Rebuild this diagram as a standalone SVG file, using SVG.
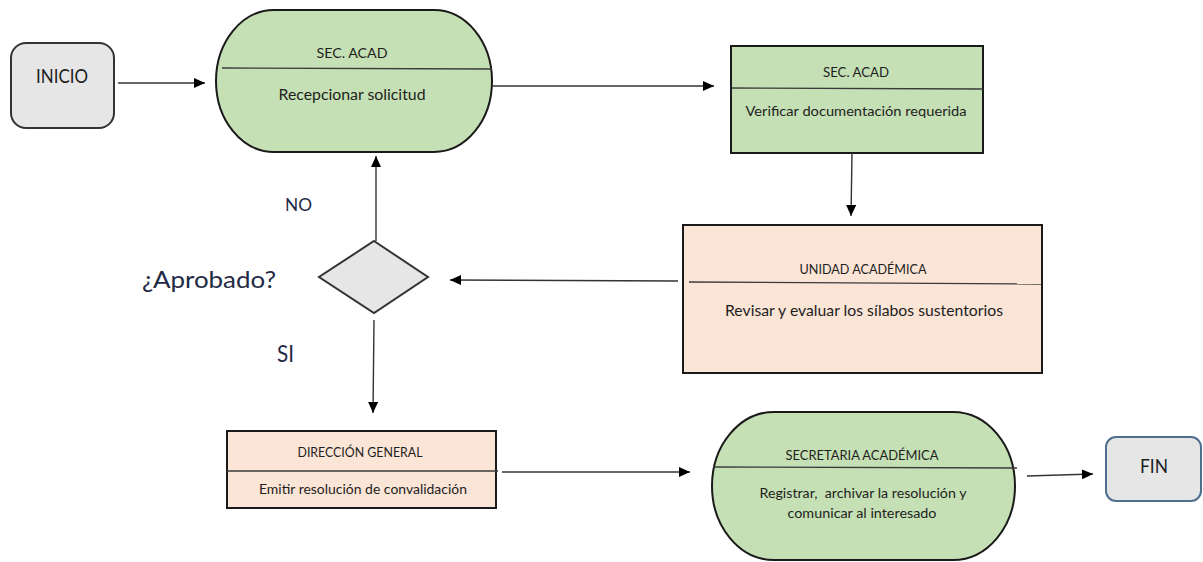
<svg xmlns="http://www.w3.org/2000/svg" width="1203" height="562" viewBox="0 0 1203 562">
  <style>
    .t { font-family: Lato, "Open Sans", "Liberation Sans", sans-serif; fill: #1e1e1e; text-anchor: middle; }
    .lbl { font-family: Lato, "Open Sans", "Liberation Sans", sans-serif; fill: #1f2a44; }
    .green { fill: #c5e0b4; stroke: #1a1a1a; stroke-width: 2; }
    .peach { fill: #fbe5d6; stroke: #1a1a1a; stroke-width: 2; }
    .gray { fill: #e6e6e6; stroke: #333333; stroke-width: 2; }
    .sep { stroke: #3a3a3a; stroke-width: 1.3; fill: none; }
    .conn { stroke: #333333; stroke-width: 1.4; fill: none; marker-end: url(#arrow); }
  </style>
  <defs>
    <marker id="arrow" markerUnits="userSpaceOnUse" markerWidth="11" markerHeight="10" refX="11" refY="5" orient="auto">
      <path d="M0,0 L11,5 L0,10 z" fill="#000"/>
    </marker>
  </defs>

  <rect width="1203" height="562" fill="#ffffff"/>

  <!-- start terminal -->
  <g id="inicio">
    <rect class="gray" x="11" y="43" width="103" height="85" rx="15" ry="15"/>
    <text class="t" x="62" y="83" font-size="20" textLength="52" lengthAdjust="spacingAndGlyphs">INICIO</text>
  </g>

  <!-- reception of the request -->
  <g id="recepcionar">
    <rect class="green" x="216" y="10" width="276" height="142" rx="58" ry="71"/>
    <line class="sep" x1="222" y1="68" x2="492" y2="69"/>
    <text class="t" x="352" y="58" font-size="14" textLength="71" lengthAdjust="spacingAndGlyphs">SEC. ACAD</text>
    <text class="t" x="352" y="100" font-size="15.5" textLength="147" lengthAdjust="spacingAndGlyphs">Recepcionar solicitud</text>
  </g>

  <!-- document check -->
  <g id="verificar">
    <rect class="green" x="731" y="46" width="252" height="107"/>
    <line class="sep" x1="731" y1="88" x2="983" y2="89"/>
    <text class="t" x="856" y="77" font-size="12.5" textLength="66" lengthAdjust="spacingAndGlyphs">SEC. ACAD</text>
    <text class="t" x="856" y="116" font-size="13.5" textLength="221" lengthAdjust="spacingAndGlyphs">Verificar documentación requerida</text>
  </g>

  <!-- academic unit review -->
  <g id="unidad">
    <rect class="peach" x="683" y="225" width="359" height="148"/>
    <line class="sep" x1="689" y1="282" x2="1042" y2="284"/>
    <text class="t" x="863" y="274" font-size="13.5" textLength="127" lengthAdjust="spacingAndGlyphs">UNIDAD ACADÉMICA</text>
    <text class="t" x="864" y="316" font-size="16" textLength="278" lengthAdjust="spacingAndGlyphs">Revisar y evaluar los sílabos sustentorios</text>
  </g>

  <!-- approval decision -->
  <g id="decision">
    <polygon class="gray" points="374,241 428,277 374,313 319,277"/>
    <text class="lbl" x="142" y="288" font-size="24" textLength="134" lengthAdjust="spacingAndGlyphs">¿Aprobado?</text>
  </g>

  <!-- general direction -->
  <g id="direccion">
    <rect class="peach" x="227" y="431" width="269" height="77"/>
    <line class="sep" x1="227" y1="471" x2="498" y2="471"/>
    <text class="t" x="360" y="457" font-size="13.5" textLength="125" lengthAdjust="spacingAndGlyphs">DIRECCIÓN GENERAL</text>
    <text class="t" x="363" y="494" font-size="13.5" textLength="208" lengthAdjust="spacingAndGlyphs">Emitir resolución de convalidación</text>
  </g>

  <!-- academic secretariat -->
  <g id="secretaria">
    <rect class="green" x="712" y="412" width="303" height="148" rx="62" ry="74"/>
    <line class="sep" x1="713" y1="467" x2="1017" y2="468"/>
    <text class="t" x="862" y="460" font-size="13.5" textLength="153" lengthAdjust="spacingAndGlyphs">SECRETARIA ACADÉMICA</text>
    <text class="t" x="863" y="498" font-size="13.5" textLength="207" lengthAdjust="spacingAndGlyphs" xml:space="preserve">Registrar,  archivar la resolución y</text>
    <text class="t" x="862" y="518" font-size="13.5" textLength="149" lengthAdjust="spacingAndGlyphs">comunicar al interesado</text>
  </g>

  <!-- end terminal -->
  <g id="fin">
    <rect x="1106" y="437" width="95" height="64" rx="10" ry="10" fill="#e6e6e6" stroke="#4f6f8f" stroke-width="2"/>
    <text class="t" x="1154" y="473" font-size="20" textLength="28" lengthAdjust="spacingAndGlyphs">FIN</text>
  </g>

  <!-- connectors -->
  <g id="connectors">
    <line class="conn" x1="118" y1="83" x2="205" y2="83"/>
    <line class="conn" x1="492" y1="86" x2="714" y2="86"/>
    <line class="conn" x1="852" y1="153" x2="851" y2="216"/>
    <line class="conn" x1="678" y1="281" x2="450" y2="280"/>
    <line class="conn" x1="376" y1="241" x2="376" y2="156"/>
    <line class="conn" x1="374" y1="320" x2="373" y2="413"/>
    <line class="conn" x1="502" y1="472" x2="690" y2="472"/>
    <line class="conn" x1="1027" y1="476" x2="1093" y2="474"/>
    <text class="lbl" x="285" y="211" font-size="18" textLength="27" lengthAdjust="spacingAndGlyphs">NO</text>
    <text class="lbl" x="277" y="362" font-size="23" textLength="17" lengthAdjust="spacingAndGlyphs">SI</text>
  </g>
</svg>
